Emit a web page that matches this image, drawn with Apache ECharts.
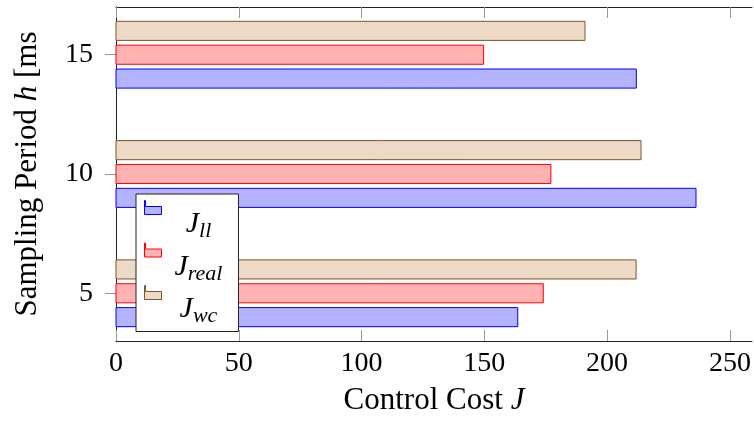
<!DOCTYPE html>
<html><head><meta charset="utf-8">
<script src="https://cdn.jsdelivr.net/npm/echarts@6/dist/echarts.min.js"></script>
<style>html,body{margin:0;padding:0;background:#fff}#c{width:754px;height:423px}</style>
</head><body><div id="c"></div>
<script>
const samplingPeriods = [5, 10, 15];
const J_ll   = [163.6, 236.2, 211.9];
const J_real = [174.0, 177.1, 149.7];
const J_wc   = [211.8, 213.8, 191.0];
const xTicks = [0, 50, 100, 150, 200, 250];
const yTicks = [5, 10, 15];

const FONT = '"Liberation Serif", "DejaVu Serif", serif';
const HALF = 0.4;
const J_SIZE = 30, S_SIZE = 22, TEXT_W = 64;
function mk(vals){ return vals.map((v,i)=>[v, samplingPeriods[i]]); }
function render(offset){
  return function(params, api){
    const v = api.value(0), h = api.value(1) + offset;
    const p0 = api.coord([0, h + HALF]);
    const p1 = api.coord([v, h - HALF]);
    const st = api.style();
    return {type:'rect', shape:{x:p0[0], y:p0[1], width:p1[0]-p0[0], height:p1[1]-p0[1]},
      style:{fill: st.fill, stroke: api.visual('borderColor') || st.stroke, lineWidth:1}};
  };
}
const seriesDef = [
  {name:'J_ll', data:J_ll, offset:-1, fill:'rgb(179,179,255)', stroke:'rgb(0,0,255)', sub:'ll'},
  {name:'J_real', data:J_real, offset:0, fill:'rgb(255,179,179)', stroke:'rgb(255,0,0)', sub:'real'},
  {name:'J_wc', data:J_wc, offset:1, fill:'rgb(236,217,198)', stroke:'rgb(128,85,42)', sub:'wc'}
];
const ctx = document.createElement('canvas').getContext('2d');
function tw(t, size){ ctx.font = 'italic ' + size + 'px ' + FONT; return ctx.measureText(t).width; }
const rich = {};
seriesDef.forEach((s, i) => {
  const w = tw('J', J_SIZE) + tw(s.sub, S_SIZE);
  const pad = Math.max(0, (TEXT_W - w) / 2);
  rich['j' + i] = {fontFamily:FONT, fontStyle:'italic', fontSize:J_SIZE, color:'#000', padding:[34,0,0,pad]};
  rich['s' + i] = {fontFamily:FONT, fontStyle:'italic', fontSize:S_SIZE, color:'#000', padding:[48,pad,0,0]};
});
const ICON = 'path://M0,0 L1,0 L1,6 L17,6 L17,14 L0,14 Z';

const chart = echarts.init(document.getElementById('c'), null, {renderer:'canvas'});
chart.setOption({
  animation:false,
  grid:{left:116, top:7, right:2, bottom:82},
  legend:{
    orient:'vertical', left:136, top:194,
    backgroundColor:'#fff', borderColor:'#222', borderWidth:1,
    padding:[6,16,4,8], itemGap:0, itemWidth:17, itemHeight:14,
    icon: ICON,
    data: seriesDef.map(s=>({name:s.name, itemStyle:{color:s.fill, borderColor:s.stroke, borderWidth:1}})),
    formatter: n => { const i = seriesDef.findIndex(s=>s.name===n); return '{j'+i+'|J}{s'+i+'|' + seriesDef[i].sub + '}'; },
    textStyle:{ rich: rich }
  },
  xAxis:[{
    type:'value', min:0, max:259, interval:50, position:'bottom',
    axisLine:{show:true, lineStyle:{color:'#222', width:1}},
    axisTick:{show:true, inside:true, length:11, lineStyle:{color:'#999'}, customValues: xTicks},
    axisLabel:{fontFamily:FONT, fontSize:28, color:'#000', margin:9, customValues: xTicks},
    splitLine:{show:false},
    name:'{a|Control Cost }{b|J}', nameLocation:'middle', nameGap:44,
    nameTextStyle:{rich:{a:{fontFamily:FONT, fontSize:31, color:'#000'}, b:{fontFamily:FONT, fontSize:31, fontStyle:'italic', color:'#000'}}}
  },{
    type:'value', min:0, max:259, interval:50, position:'top',
    axisLine:{show:true, lineStyle:{color:'#222', width:1}},
    axisTick:{show:true, inside:true, length:11, lineStyle:{color:'#999'}, customValues: xTicks},
    axisLabel:{show:false}, splitLine:{show:false}
  }],
  yAxis:[{
    type:'value', min:3, max:17, position:'left',
    axisLine:{show:true, lineStyle:{color:'#222', width:1}},
    axisTick:{show:true, inside:false, length:11, lineStyle:{color:'#999'}, customValues: yTicks},
    axisLabel:{fontFamily:FONT, fontSize:28, color:'#000', margin:23, customValues: yTicks},
    splitLine:{show:false},
    name:'{a|Sampling Period }{b|h}{a| [ms}', nameLocation:'middle', nameGap:73,
    nameTextStyle:{rich:{a:{fontFamily:FONT, fontSize:31, color:'#000'}, b:{fontFamily:FONT, fontSize:31, fontStyle:'italic', color:'#000'}}}
  },{
    type:'value', min:3, max:17, position:'right',
    axisLine:{show:true, lineStyle:{color:'#222', width:1}},
    axisTick:{show:false}, axisLabel:{show:false}, splitLine:{show:false}
  }],
  series: seriesDef.map(s=>({
    type:'custom', name:s.name, xAxisIndex:0, yAxisIndex:0,
    itemStyle:{color:s.fill, borderColor:s.stroke, borderWidth:1},
    encode:{x:0, y:1},
    renderItem: render(s.offset),
    data: mk(s.data)
  }))
});
</script></body></html>
